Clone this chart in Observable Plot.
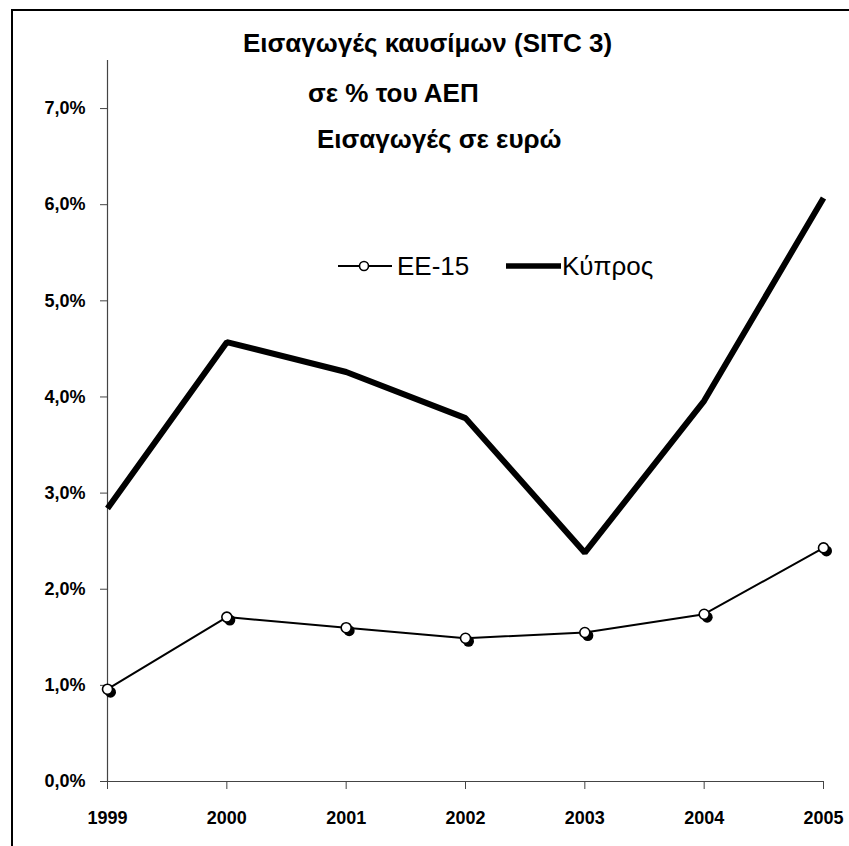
<!DOCTYPE html>
<html>
<head>
<meta charset="utf-8">
<script src="https://cdn.jsdelivr.net/npm/d3@7"></script>
<script src="https://cdn.jsdelivr.net/npm/@observablehq/plot@0.6"></script>
<style>
  html, body { margin: 0; padding: 0; background: #fff; overflow: hidden; }
  #wrap { position: relative; width: 849px; height: 846px; }
  #wrap > svg { position: absolute; left: 0; top: 0; }
  #overlay { position: absolute; left: 0; top: 0; pointer-events: none; }
</style>
</head>
<body>
<div id="wrap"></div>
<script>
const years = [1999, 2000, 2001, 2002, 2003, 2004, 2005];
const ee15 = [0.96, 1.71, 1.60, 1.49, 1.55, 1.74, 2.43];
const kypros = [2.84, 4.57, 4.26, 3.78, 2.38, 3.96, 6.07];
const yTicks = [0, 1, 2, 3, 4, 5, 6, 7];
const titleLines = ["Εισαγωγές καυσίμων (SITC 3)", "σε % του ΑΕΠ", "Εισαγωγές σε ευρώ"];
const seriesNames = ["ΕΕ-15", "Κύπρος"];

const eeData = years.map((y, i) => ({year: y, value: ee15[i]}));
const kyData = years.map((y, i) => ({year: y, value: kypros[i]}));

const font = "'Liberation Sans', Arial, sans-serif";

const chart = Plot.plot({
  width: 849,
  height: 846,
  marginLeft: 107,
  marginRight: 26,
  marginTop: 60,
  marginBottom: 65,
  style: {fontFamily: font, fontSize: "18px", fontWeight: "bold", background: "transparent", overflow: "visible"},
  x: {domain: [1999, 2005], type: "linear"},
  y: {domain: [0, 7.5]},
  marks: [
    Plot.ruleX([1999], {stroke: "#444", strokeWidth: 1.2}),
    Plot.ruleY([0], {stroke: "#444", strokeWidth: 1.2}),
    Plot.axisY(yTicks, {
      tickSize: 7, tickPadding: 15, stroke: "#444",
      tickFormat: d => d.toFixed(1).replace(".", ",") + "%",
      fontSize: 18, fontWeight: "bold", fill: "#000", label: null
    }),
    Plot.axisX(years, {
      tickSize: 8, tickPadding: 22, stroke: "#444",
      tickFormat: d => String(d),
      fontSize: 18, fontWeight: "bold", fill: "#000", label: null
    }),
    Plot.line(kyData, {x: "year", y: "value", stroke: "#000", strokeWidth: 6, strokeLinejoin: "miter", strokeLinecap: "butt"}),
    Plot.line(eeData, {x: "year", y: "value", stroke: "#000", strokeWidth: 2}),
    Plot.dot(eeData, {x: "year", y: "value", r: 5.5, fill: "#000", stroke: "none", dx: 3, dy: 3}),
    Plot.dot(eeData, {x: "year", y: "value", r: 5, fill: "#fff", stroke: "#000", strokeWidth: 1.6})
  ]
});

const wrap = document.getElementById("wrap");
wrap.appendChild(chart);

// overlay: frame border, title, legend
const ns = "http://www.w3.org/2000/svg";
const ov = d3.select(wrap).append("svg")
  .attr("id", "overlay").attr("width", 849).attr("height", 846)
  .attr("xmlns", ns);

ov.append("rect").attr("x", 12).attr("y", 10).attr("width", 900).attr("height", 900)
  .attr("fill", "none").attr("stroke", "#000").attr("stroke-width", 2);

const titlePos = [[243, 52], [308, 102], [317, 148]];
titleLines.forEach((t, i) => {
  ov.append("text").attr("x", titlePos[i][0]).attr("y", titlePos[i][1])
    .attr("font-family", font).attr("font-weight", "bold").attr("font-size", 26)
    .attr("fill", "#000").text(t);
});

// legend
const ly = 266;
ov.append("line").attr("x1", 338).attr("x2", 392).attr("y1", ly).attr("y2", ly)
  .attr("stroke", "#000").attr("stroke-width", 2);
ov.append("circle").attr("cx", 364).attr("cy", ly).attr("r", 4.5)
  .attr("fill", "#fff").attr("stroke", "#000").attr("stroke-width", 1.6);
ov.append("text").attr("x", 397).attr("y", ly + 9).attr("font-family", font)
  .attr("font-size", 26).attr("fill", "#000").text(seriesNames[0]);
ov.append("line").attr("x1", 506).attr("x2", 561).attr("y1", ly).attr("y2", ly)
  .attr("stroke", "#000").attr("stroke-width", 5.5);
ov.append("text").attr("x", 562).attr("y", ly + 9).attr("font-family", font)
  .attr("font-size", 26).attr("fill", "#000").text(seriesNames[1]);
</script>
</body>
</html>
